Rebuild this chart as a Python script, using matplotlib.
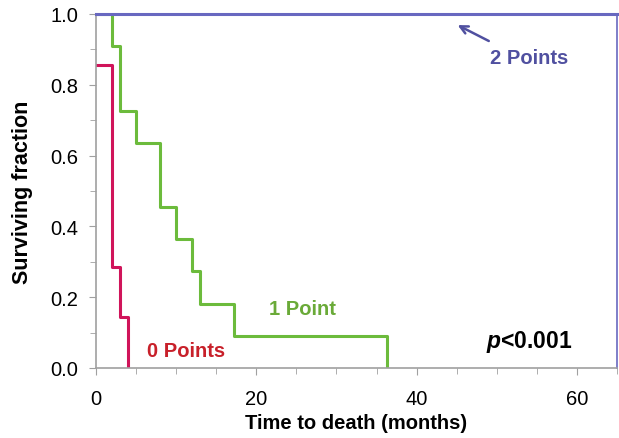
import matplotlib
matplotlib.use("Agg")
import matplotlib.pyplot as plt
from matplotlib.ticker import MultipleLocator

plt.rcParams["font.family"] = ["Liberation Sans", "DejaVu Sans"]
plt.rcParams["mathtext.fontset"] = "custom"
plt.rcParams["mathtext.bfit"] = "Liberation Sans:bold:italic"

# ---------- Datos (Kaplan-Meier, escalones) ----------
t_0pts = [0, 2, 3, 4]
s_0pts = [0.857, 0.286, 0.143, 0.0]

t_1pt = [0, 2, 3, 5, 8, 10, 12, 13, 17.2, 36.3]
s_1pt = [1.0, 0.909, 0.727, 0.636, 0.455, 0.364, 0.273, 0.182, 0.091, 0.0]

t_2pts = [0, 65]
s_2pts = [1.0, 1.0]

x_ticks = [0, 20, 40, 60]
y_ticks = [0.0, 0.2, 0.4, 0.6, 0.8, 1.0]

ROJO = "#d0145a"
VERDE = "#6cbb3c"
AZUL = "#6868c0"
GRIS = "#a0a0a0"

fig = plt.figure(figsize=(6.19, 4.39), dpi=100)
ax = fig.add_axes([0.155, 0.1595, 0.842, 0.8065])

ax.step(t_0pts, s_0pts, where="post", color=ROJO, lw=2.2)
ax.step(t_1pt, s_1pt, where="post", color=VERDE, lw=2.2)
ax.plot(t_2pts, s_2pts, color=AZUL, lw=2.2, clip_on=False, zorder=5)

ax.set_xlim(0, 65)
ax.set_ylim(0, 1.0)
ax.set_xticks(x_ticks)
ax.set_yticks(y_ticks)
ax.set_yticklabels(["{:.1f}".format(v) for v in y_ticks])
ax.xaxis.set_minor_locator(MultipleLocator(5))
ax.yaxis.set_minor_locator(MultipleLocator(0.1))
ax.tick_params(axis="both", which="major", labelsize=14.5, color=GRIS, length=5, direction="out")
ax.tick_params(axis="x", which="major", pad=10)
ax.tick_params(axis="y", which="major", pad=8)
ax.tick_params(axis="both", which="minor", color=GRIS, length=4, direction="out")

for lado in ["left", "bottom"]:
    ax.spines[lado].set_color(GRIS)
    ax.spines[lado].set_linewidth(1.2)
ax.spines["top"].set_visible(False)
ax.spines["right"].set_color(AZUL)
ax.spines["right"].set_linewidth(1.2)

ax.set_xlabel("Time to death (months)", fontsize=14.5, fontweight="bold", labelpad=4)
ax.set_ylabel("Surviving fraction", fontsize=15.5, fontweight="bold", labelpad=12)

ax.text(11.2, 0.048, "0 Points", color="#c8202a", fontsize=14.5, fontweight="bold", ha="center", va="center")
ax.text(25.7, 0.167, "1 Point", color="#6aaa38", fontsize=14.5, fontweight="bold", ha="center", va="center")
ax.text(54, 0.878, "2 Points", color="#5050a0", fontsize=14.5, fontweight="bold", ha="center", va="center")
ax.annotate("", xy=(44.8, 0.972), xytext=(49.3, 0.92),
            arrowprops=dict(arrowstyle="->", color="#5050a0", lw=1.8, mutation_scale=14))
ax.text(54, 0.076, r"$\mathbfit{p}$<0.001", fontsize=16.5, fontweight="bold", ha="center", va="center")

fig.savefig("out.png", dpi=100)
